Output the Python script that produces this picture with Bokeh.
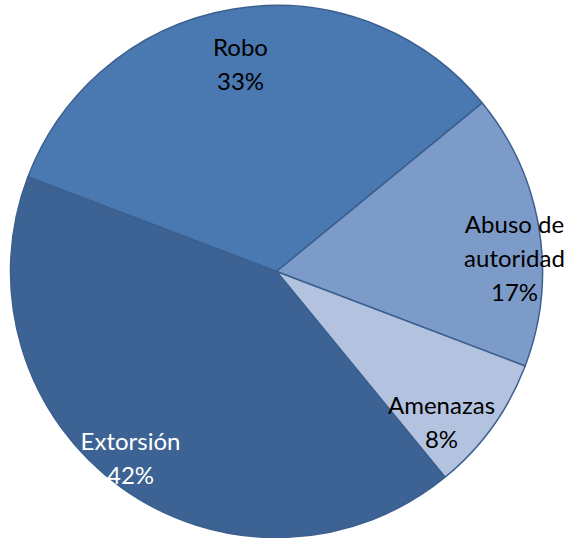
import math
from bokeh.plotting import figure
from bokeh.models import Range1d, ColumnDataSource
from bokeh.core.properties import value
from bokeh.embed import file_html
from bokeh.resources import INLINE

# data
categories = ["Robo", "Abuso de\nautoridad", "Amenazas", "Extorsión"]
shares = [33.3, 16.7, 8.3, 41.7]
colors = ["#4a78b0", "#7d9bc8", "#b3c3df", "#3c6393"]
text_colors = ["#000000", "#000000", "#000000", "#ffffff"]

# layout (pixel space of the page, y measured upward from page bottom)
W, H = 568, 538
PAGE_H = 538
cx, cy, r = 276, PAGE_H - 271, 266
start_deg = 159.2
# label anchor (x, y of first line center) in page pixel coords (y downward)
label_pos = [(240, 46), (514, 223), (441, 404), (130, 440)]
line_gap = 34

total = sum(shares)
starts, ends = [], []
a = start_deg
for s in shares:
    span = 360.0 * s / total
    ends.append(math.radians(a))
    starts.append(math.radians(a - span))
    a -= span

p = figure(width=W, height=H, output_backend="svg", toolbar_location=None,
           x_range=Range1d(0, W), y_range=Range1d(PAGE_H - H, PAGE_H),
           min_border=0, background_fill_color="white", border_fill_color="white")
p.axis.visible = False
p.grid.visible = False
p.outline_line_color = None

src = ColumnDataSource(dict(start=starts, end=ends, color=colors))
p.wedge(x=cx, y=cy, radius=r, start_angle="start", end_angle="end", source=src,
        fill_color="color", line_color="#3b5f8e", line_width=1.5, direction="anticlock")

xs, ys, txt, tc = [], [], [], []
for cat, s, (lx, ly), col in zip(categories, shares, label_pos, text_colors):
    lines = cat.split("\n") + [f"{round(s)}%"]
    for i, ln in enumerate(lines):
        xs.append(lx)
        ys.append(PAGE_H - (ly + i * line_gap))
        txt.append(ln)
        tc.append(col)

p.text(x=xs, y=ys, text=txt, text_color=tc, text_align="center", text_baseline="middle",
       text_font=value("Lato"), text_font_size="24px")

open("out.html", "w").write(file_html(p, INLINE))
